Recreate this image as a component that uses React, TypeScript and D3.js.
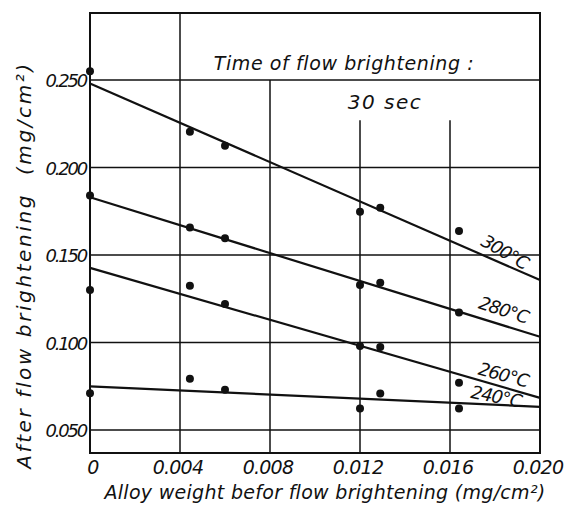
import React from "react";
import * as d3 from "d3";

// alloy weight before flow brightening (mg/cm2)
const xValues = [0, 0.00444, 0.006, 0.012, 0.0129, 0.0164];
// measured after flow brightening (mg/cm2)
const s300 = [0.255, 0.2205, 0.2125, 0.1747, 0.177, 0.1637];
const s280 = [0.184, 0.1657, 0.1596, 0.1329, 0.1342, 0.1172];
const s260 = [0.13, 0.1325, 0.122, 0.098, 0.0975, 0.077];
const s240 = [0.071, 0.0793, 0.0731, 0.0623, 0.0709, 0.0623];
// fitted lines at x = 0 and x = 0.020
const fitX = [0, 0.02];
const fit300 = [0.248, 0.1357];
const fit280 = [0.183, 0.1033];
const fit260 = [0.1427, 0.0684];
const fit240 = [0.075, 0.0633];

const seriesNames = ["300°C", "280°C", "260°C", "240°C"];
const xTicks = [0, 0.004, 0.008, 0.012, 0.016, 0.02];
const xTickLabels = ["0", "0.004", "0.008", "0.012", "0.016", "0.020"];
const yTicks = [0.05, 0.1, 0.15, 0.2, 0.25];
const yTickLabels = ["0.050", "0.100", "0.150", "0.200", "0.250"];
// vertical grid lines: where each one starts at the top (y value)
const vGridX = [0.004, 0.008, 0.012, 0.016];
const vGridTop = [0.2883, 0.25, 0.227, 0.227];

const W = 571;
const H = 509;
const ink = "#111";
const hand = "'DejaVu Sans', sans-serif";

const x = d3.scaleLinear().domain([0, 0.02]).range([90, 540]);
const y = d3.scaleLinear().domain([0.0369, 0.2883]).range([453, 13]);

export default function App() {
  const points = [s300, s280, s260, s240];
  const fits = [fit300, fit280, fit260, fit240];
  const line = d3
    .line<number>()
    .x((_, i) => x(fitX[i]))
    .y((d) => y(d));

  // label placement
  const labelPos = [
    { v: 0.0183, dy: -6, rot: 30 },
    { v: 0.0183, dy: -9, rot: 18 },
    { v: 0.0183, dy: -6, rot: 15 },
    { v: 0.018, dy: -2, rot: 11 },
  ];

  return (
    <svg
      width={W}
      height={H}
      style={{ position: "absolute", left: 0, top: 0, background: "#fff" }}
    >
      {/* horizontal grid */}
      {yTicks.map((t) => (
        <line key={"h" + t} x1={x(0)} x2={x(0.02)} y1={y(t)} y2={y(t)} stroke={ink} strokeWidth={1.6} />
      ))}
      {/* vertical grid */}
      {vGridX.map((t, i) => (
        <line key={"v" + t} x1={x(t)} x2={x(t)} y1={y(vGridTop[i])} y2={y(0.0369)} stroke={ink} strokeWidth={1.5} />
      ))}
      {/* frame */}
      <rect x={x(0)} y={y(0.2883)} width={x(0.02) - x(0)} height={y(0.0369) - y(0.2883)} fill="none" stroke={ink} strokeWidth={2} />

      {/* fitted lines */}
      {fits.map((f, i) => (
        <path key={"f" + i} d={line(f) || ""} fill="none" stroke={ink} strokeWidth={2.2} />
      ))}
      {/* measured points */}
      {points.map((s, i) =>
        s.map((v, j) => <circle key={"p" + i + "-" + j} cx={x(xValues[j])} cy={y(v)} r={4} fill={ink} />)
      )}

      {/* series labels */}
      {seriesNames.map((n, i) => {
        const p = labelPos[i];
        const f = fits[i];
        const yv = f[0] + ((f[1] - f[0]) * p.v) / 0.02;
        const px = x(p.v);
        const py = y(yv) + p.dy;
        return (
          <text
            key={n}
            x={px}
            y={py}
            transform={`rotate(${p.rot},${px},${py})`}
            textAnchor="middle"
            fontFamily={hand}
            fontStyle="italic"
            fontSize={18}
            fill={ink}
            style={{ letterSpacing: "-1px" }}
          >
            {n}
          </text>
        );
      })}

      {/* annotations */}
      <text x={344} y={70} textAnchor="middle" fontFamily={hand} fontStyle="italic" fontSize={19} fill={ink} style={{ letterSpacing: "0.6px" }}>
        Time of flow brightening :
      </text>
      <text x={385} y={109} textAnchor="middle" fontFamily={hand} fontStyle="italic" fontSize={20} fill={ink} style={{ letterSpacing: "1.5px" }}>
        30 sec
      </text>

      {/* y tick labels */}
      {yTicks.map((t, i) => (
        <text
          key={"yt" + t}
          x={86}
          y={y(t) + 7}
          textAnchor="end"
          fontFamily={hand}
          fontStyle="italic"
          fontSize={18}
          fill={ink}
          style={{ letterSpacing: "-2.2px" }}
        >
          {yTickLabels[i]}
        </text>
      ))}
      {/* x tick labels */}
      {xTicks.map((t, i) => (
        <text
          key={"xt" + t}
          x={x(t) + (i === 0 ? 3 : -2)}
          y={474}
          textAnchor="middle"
          fontFamily={hand}
          fontStyle="italic"
          fontSize={19}
          fill={ink}
          style={{ letterSpacing: "-0.8px" }}
        >
          {xTickLabels[i]}
        </text>
      ))}

      {/* axis titles */}
      <text x={325} y={499} textAnchor="middle" fontFamily={hand} fontStyle="italic" fontSize={19} fill={ink} style={{ letterSpacing: "0.3px" }}>
        Alloy weight befor flow brightening (mg/cm²)
      </text>
      <text
        x={0}
        y={0}
        transform={`translate(31,265) rotate(-90)`}
        textAnchor="middle"
        fontFamily={hand}
        fontStyle="italic"
        fontSize={20}
        fill={ink}
        style={{ whiteSpace: "pre", letterSpacing: "2.6px" }}
      >
        {"After flow brightening  (mg/cm²)"}
      </text>
    </svg>
  );
}
